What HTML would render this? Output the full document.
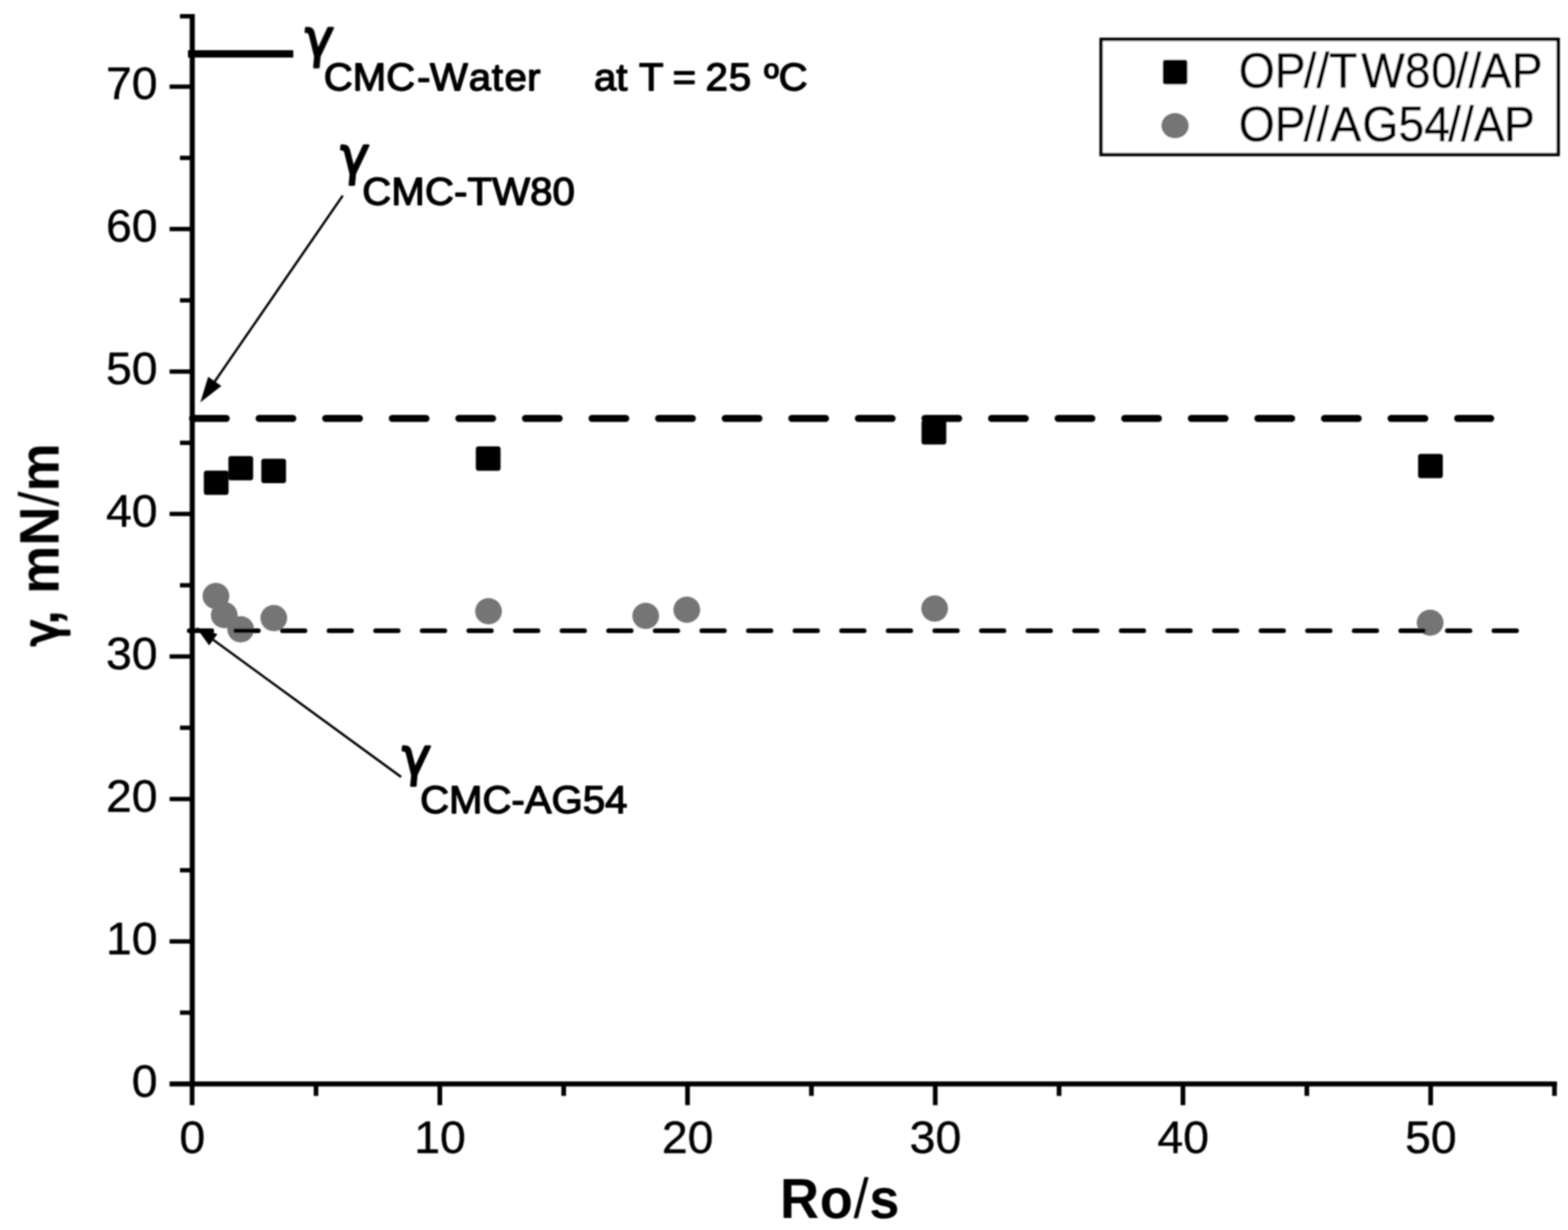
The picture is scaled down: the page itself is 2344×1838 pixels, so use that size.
<!DOCTYPE html>
<html lang="en"><head><meta charset="utf-8"><title>Surface tension vs Ro/s</title>
<style>
html,body{margin:0;padding:0;background:#fff;}
body{width:2344px;height:1838px;overflow:hidden;}
svg{display:block;}
text{font-family:"Liberation Sans",sans-serif;fill:#000;stroke:#000;stroke-linejoin:round;font-kerning:none;}
.tick{font-size:69.3px;stroke-width:0.6;}
.leg{font-size:69.3px;stroke-width:0.7;}
.sub{font-size:60px;stroke-width:2;}
.gam{font-family:"DejaVu Sans",sans-serif;font-size:78px;font-weight:normal;font-style:normal;stroke-width:3.2;}
.title{font-size:81px;font-weight:bold;stroke-width:0;}
.thin{font-weight:normal;stroke-width:0;}
.ax{stroke:#000;fill:none;}
</style></head><body>
<svg width="2344" height="1838" viewBox="0 0 2344 1838">
<defs><filter id="soft" x="0" y="0" width="2344" height="1838" filterUnits="userSpaceOnUse"><feGaussianBlur stdDeviation="1.1"/></filter></defs>
<rect width="2344" height="1838" fill="#fff"/>
<g filter="url(#soft)">
<g fill="#757575">
<ellipse cx="322.8" cy="890.7" rx="20" ry="19.6"/>
<ellipse cx="335.2" cy="919.2" rx="20" ry="19.6"/>
<ellipse cx="359.8" cy="940.3" rx="20" ry="19.6"/>
<ellipse cx="409.3" cy="923.6" rx="20" ry="19.6"/>
<ellipse cx="730.3" cy="913.4" rx="20" ry="19.6"/>
<ellipse cx="965.3" cy="920.3" rx="20" ry="19.6"/>
<ellipse cx="1026.7" cy="911.2" rx="20" ry="19.6"/>
<ellipse cx="1397.2" cy="909.3" rx="20" ry="19.6"/>
<ellipse cx="2137.9" cy="930.5" rx="20" ry="19.6"/>
</g>
<g class="ax" stroke-linecap="round">
<line x1="287.70" y1="625.3" x2="2228.6" y2="625.3" stroke-width="10.4" stroke-dasharray="50.60 48.94"/>
<line x1="282.90" y1="942.5" x2="2267.4" y2="942.5" stroke-width="7.2" stroke-dasharray="33.60 36.06"/>
</g>
<g fill="#000">
<rect x="304.7" y="703.2" width="37" height="36.4" rx="4"/>
<rect x="341.4" y="681.4" width="37" height="36.4" rx="4"/>
<rect x="390.6" y="685.5" width="37" height="36.4" rx="4"/>
<rect x="711.3" y="667.1" width="37" height="36.4" rx="4"/>
<rect x="1377.6" y="627.8" width="37" height="36.4" rx="4"/>
<rect x="2119.9" y="678.2" width="37" height="36.4" rx="4"/>
</g>
<g class="ax">
<line x1="287.4" y1="21" x2="287.4" y2="1623.5" stroke-width="7.6"/>
<line x1="253.5" y1="1619.7" x2="2327.5" y2="1619.7" stroke-width="7.5"/>
<line x1="269.0" y1="1513.2" x2="287" y2="1513.2" stroke-width="6.5"/>
<line x1="253.5" y1="1406.8" x2="287" y2="1406.8" stroke-width="6.5"/>
<line x1="269.0" y1="1300.4" x2="287" y2="1300.4" stroke-width="6.5"/>
<line x1="253.5" y1="1193.9" x2="287" y2="1193.9" stroke-width="6.5"/>
<line x1="269.0" y1="1087.5" x2="287" y2="1087.5" stroke-width="6.5"/>
<line x1="253.5" y1="981.0" x2="287" y2="981.0" stroke-width="6.5"/>
<line x1="269.0" y1="874.6" x2="287" y2="874.6" stroke-width="6.5"/>
<line x1="253.5" y1="768.1" x2="287" y2="768.1" stroke-width="6.5"/>
<line x1="269.0" y1="661.7" x2="287" y2="661.7" stroke-width="6.5"/>
<line x1="253.5" y1="555.2" x2="287" y2="555.2" stroke-width="6.5"/>
<line x1="269.0" y1="448.8" x2="287" y2="448.8" stroke-width="6.5"/>
<line x1="253.5" y1="342.3" x2="287" y2="342.3" stroke-width="6.5"/>
<line x1="269.0" y1="235.9" x2="287" y2="235.9" stroke-width="6.5"/>
<line x1="253.5" y1="129.4" x2="287" y2="129.4" stroke-width="6.5"/>
<line x1="269.0" y1="24.3" x2="287" y2="24.3" stroke-width="6.5"/>
<line x1="287.2" y1="1619.7" x2="287.2" y2="1651.5" stroke-width="7"/>
<line x1="472.4" y1="1619.7" x2="472.4" y2="1637.6" stroke-width="7"/>
<line x1="657.5" y1="1619.7" x2="657.5" y2="1651.5" stroke-width="7"/>
<line x1="842.7" y1="1619.7" x2="842.7" y2="1637.6" stroke-width="7"/>
<line x1="1027.8" y1="1619.7" x2="1027.8" y2="1651.5" stroke-width="7"/>
<line x1="1213.0" y1="1619.7" x2="1213.0" y2="1637.6" stroke-width="7"/>
<line x1="1398.1" y1="1619.7" x2="1398.1" y2="1651.5" stroke-width="7"/>
<line x1="1583.2" y1="1619.7" x2="1583.2" y2="1637.6" stroke-width="7"/>
<line x1="1768.4" y1="1619.7" x2="1768.4" y2="1651.5" stroke-width="7"/>
<line x1="1953.6" y1="1619.7" x2="1953.6" y2="1637.6" stroke-width="7"/>
<line x1="2138.7" y1="1619.7" x2="2138.7" y2="1651.5" stroke-width="7"/>
<line x1="2323.8" y1="1619.7" x2="2323.8" y2="1637.6" stroke-width="7"/>
</g>
<line x1="281" y1="80.4" x2="438.4" y2="80.4" stroke="#000" stroke-width="11"/>
<text class="tick" text-anchor="end" x="235.5" y="1638.7">0</text>
<text class="tick" text-anchor="end" x="235.5" y="1425.8">10</text>
<text class="tick" text-anchor="end" x="235.5" y="1212.9">20</text>
<text class="tick" text-anchor="end" x="235.5" y="1000">30</text>
<text class="tick" text-anchor="end" x="235.5" y="787.1">40</text>
<text class="tick" text-anchor="end" x="235.5" y="574.2">50</text>
<text class="tick" text-anchor="end" x="235.5" y="361.3">60</text>
<text class="tick" text-anchor="end" x="235.5" y="148.4">70</text>
<text class="tick" text-anchor="middle" x="287.5" y="1722.5">0</text>
<text class="tick" text-anchor="middle" x="657.8" y="1722.5">10</text>
<text class="tick" text-anchor="middle" x="1028.1" y="1722.5">20</text>
<text class="tick" text-anchor="middle" x="1398.4" y="1722.5">30</text>
<text class="tick" text-anchor="middle" x="1768.7" y="1722.5">40</text>
<text class="tick" text-anchor="middle" x="2139" y="1722.5">50</text>
<text class="title" letter-spacing="1" transform="translate(1166,1819.8) scale(1,1.04)">Ro<tspan class="thin">/</tspan>s</text>
<text class="title" transform="translate(87.6,965.5) rotate(-90) scale(1,1.04)"><tspan class="gam" style="font-size:72px" textLength="40" lengthAdjust="spacingAndGlyphs">γ</tspan><tspan dx="-8.5">,</tspan><tspan dx="1.5"> mN</tspan><tspan class="thin">/</tspan>m</text>
<line x1="512.4" y1="292.3" x2="321.1" y2="569.9" stroke="#000" stroke-width="3.5"/>
<polygon points="299.5,601.2 311.2,563.1 330.9,576.7" fill="#000"/>
<line x1="599.6" y1="1161.0" x2="318.8" y2="956.1" stroke="#000" stroke-width="3.5"/>
<polygon points="293.0,937.2 325.0,947.6 312.7,964.5" fill="#000"/>
<text class="gam" transform="translate(452.5,85) skewX(-5) scale(0.95,1)">γ</text>
<text class="gam" transform="translate(505.5,260) skewX(-5) scale(0.95,1)">γ</text>
<text class="gam" transform="translate(597.5,1158) skewX(-5) scale(0.95,1)">γ</text>
<text class="sub" dx="0 0 0 3 -0.7 1.3 1 2.4 0.5" transform="translate(484,134.9) scale(1,0.95)" xml:space="preserve">CMC-Water</text>
<text class="sub" dx="1 0 0 0.5 0 -3 0 -2.5 1.5 0 2.5 0" transform="translate(887,134.9) scale(1,0.95)" xml:space="preserve">at T = 25 ºC</text>
<text class="sub" letter-spacing="0.2" transform="translate(541.5,305.6) scale(1,0.95)" xml:space="preserve">CMC-TW80</text>
<text class="sub" transform="translate(628,1215.2) scale(1,0.95)" xml:space="preserve">CMC-AG54</text>
<rect x="1646" y="58.8" width="683.3" height="172.2" fill="#fff" stroke="#000" stroke-width="5"/>
<rect x="1738.2" y="89.2" width="37" height="37" rx="4" fill="#000"/>
<ellipse cx="1756.6" cy="187.7" rx="20.5" ry="19" fill="#757575"/>
<text class="leg" dx="0 0 -3 0 -0.5 5.5 0 1 -2 0 -1 0" transform="translate(1851.7,130.8) scale(1,1.07)">OP//TW80//AP</text>
<text class="leg" dx="0 0 -3 0 1.5 1.5 0 0 -2.7 0 -0.3 -1" transform="translate(1851.7,210.7) scale(1,1.07)">OP//AG54//AP</text>
</g>
</svg>
</body></html>
